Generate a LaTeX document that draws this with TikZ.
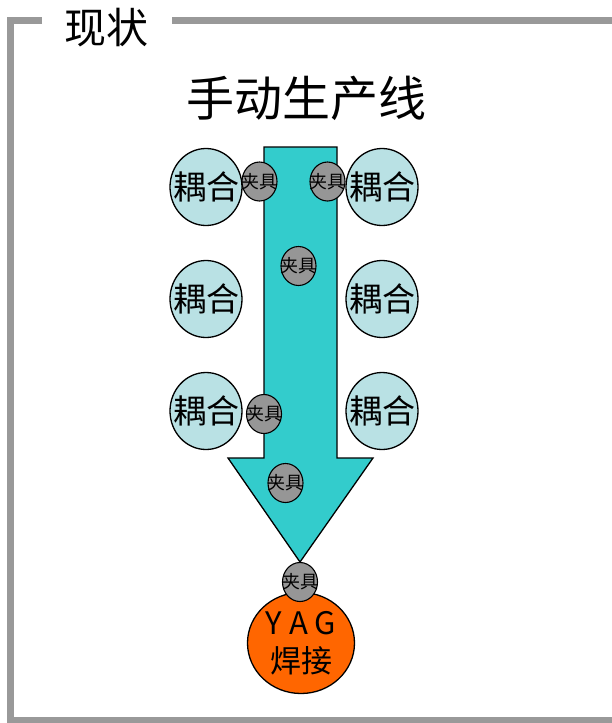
\documentclass[tikz,border=0pt]{standalone}
\usepackage{fontspec}
\setmainfont{Noto Sans CJK SC}
\usetikzlibrary{shapes.geometric}
\definecolor{framegray}{HTML}{999999}
\definecolor{arrowteal}{HTML}{33CCCC}
\definecolor{couplingblue}{HTML}{B9E1E4}
\definecolor{fixgray}{HTML}{969696}
\definecolor{yagorange}{HTML}{FF6600}
\newcommand{\zw}[1]{\makebox[0pt]{#1}}
\tikzset{
  framestyle/.style={draw=framegray, line width=7pt},
  coupling/.style={ellipse, draw=black, line width=1.3pt, fill=couplingblue,
    minimum width=72pt, minimum height=77pt, inner sep=0pt,
    font=\fontsize{33}{33}\selectfont},
  fixture/.style={ellipse, draw=black, line width=1.1pt, fill=fixgray,
    minimum width=35pt, minimum height=39pt, inner sep=0pt,
    font=\fontsize{18}{18}\selectfont, text=black},
  yag/.style={ellipse, draw=black, line width=1.3pt, fill=yagorange,
    minimum width=107pt, minimum height=101pt, inner sep=0pt,
    align=center, font=\fontsize{31}{37}\selectfont},
  flowarrow/.style={draw=black, line width=1.3pt, fill=arrowteal, line join=miter}
}
\begin{document}
\begin{tikzpicture}[x=1pt,y=-1pt]
\useasboundingbox (0,0) rectangle (611,723);
% frame
\coordinate (fa) at (42,20);
\coordinate (fb) at (10,20);
\coordinate (fc) at (10,720.5);
\coordinate (fd) at (620,720.5);
\coordinate (fe) at (172,20);
\coordinate (ff) at (620,20);
\draw[framestyle] (fa) -- (fb) -- (fc) -- (fd);
\draw[framestyle] (fe) -- (ff);
\node[font=\fontsize{42}{42}\selectfont] (status) at (106,28) {现状};
\node[font=\fontsize{48}{48}\selectfont] (title) at (306,98) {手动生产线};
% arrow
\draw[flowarrow] (264,147) -- (337,147) -- (337,458) -- (373,458) -- (300,562)
  -- (228,458) -- (264,458) -- cycle;
% couplings
\node[coupling] (c1) at (206,187) {\zw{耦合}};
\node[coupling] (c2) at (382,187) {\zw{耦合}};
\node[coupling] (c3) at (206,299) {\zw{耦合}};
\node[coupling] (c4) at (382,299) {\zw{耦合}};
\node[coupling] (c5) at (206,411) {\zw{耦合}};
\node[coupling] (c6) at (382,411) {\zw{耦合}};
% YAG
\node[yag] (yag) at (301,643) {\zw{Y\hspace{7pt}A\hspace{7pt}G}\\[1pt]\zw{焊接}};
% fixtures
\node[fixture] (f1) at (259.5,181.5) {\zw{夹具}};
\node[fixture] (f2) at (327.5,181.5) {\zw{夹具}};
\node[fixture] (f3) at (298.5,266) {\zw{夹具}};
\node[fixture] (f4) at (264,414) {\zw{夹具}};
\node[fixture] (f5) at (285.5,483) {\zw{夹具}};
\node[fixture] (f6) at (300,582) {\zw{夹具}};
\end{tikzpicture}
\end{document}
